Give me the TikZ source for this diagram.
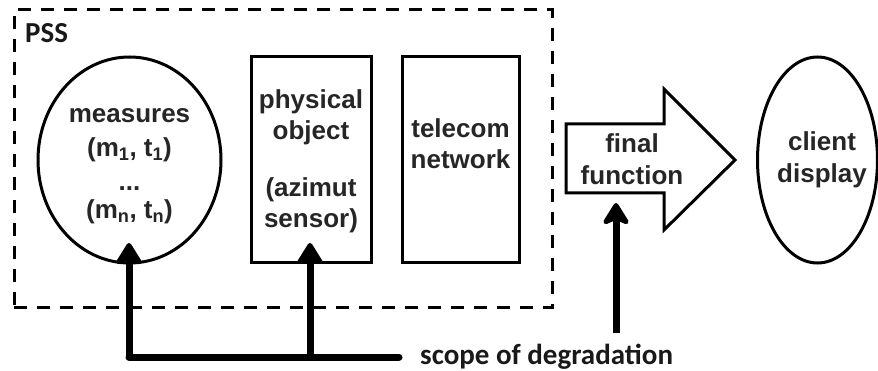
\documentclass[tikz,border=0pt]{standalone}
\usepackage{fontspec}
\newfontfamily\boxfont{Liberation Sans}
\newfontfamily\labelfont{Carlito}
\usetikzlibrary{arrows.meta,shapes.geometric,calc}
\tikzset{
  shapeline/.style={draw=black,line width=3pt},
  ovalbox/.style={shapeline,ellipse,inner sep=0pt,align=center},
  rectbox/.style={shapeline,rectangle,inner sep=0pt,align=center},
  txt/.style={font=\boxfont\fontsize{26}{31}\selectfont\bfseries,text=black!85,align=center,inner sep=0pt},
  lbl/.style={font=\labelfont\fontsize{29}{33}\selectfont\bfseries,inner sep=0pt,text=black!90},
  thick arrow/.style={line width=7pt,-{Stealth[length=26pt,width=32pt,inset=7pt,round]}},
  bus/.style={line width=7pt,line cap=round},
  pss/.style={draw=black,line width=3pt,dash pattern=on 13pt off 10pt}
}
\begin{document}
\begin{tikzpicture}[x=1pt,y=-1pt]
\useasboundingbox (0,0) rectangle (878,371);
\fill[white] (0,0) rectangle (878,371);
\node[pss,rectangle,minimum width=538pt,minimum height=298pt,inner sep=0pt] (pssbox) at (283,159) {};
\node[lbl,anchor=west] (psslabel) at (25,33) {PSS};
\node[ovalbox,minimum width=183pt,minimum height=206pt] (measures) at (129.5,160) {};
\node[txt] (measurestxt) at (129.5,166) {measures\\[3pt](m\textsubscript{1}, t\textsubscript{1})\\[3pt]...\\[-3pt](m\textsubscript{n}, t\textsubscript{n})};
\node[rectbox,minimum width=120pt,minimum height=206pt] (physical) at (311,160) {};
\node[txt] (physicaltxt) at (311,161) {physical\\object\\[26pt](azimut\\sensor)};
\node[rectbox,minimum width=117pt,minimum height=206pt] (telecom) at (460.5,160) {};
\node[txt] (telecomtxt) at (460.5,144) {telecom\\network};
\draw[shapeline,line join=miter,fill=white] (566,124) -- (664,124) -- (664,89) -- (735,160) -- (664,230) -- (664,193) -- (566,193) -- cycle;
\node[txt] (finaltxt) at (632,159) {final\\[1pt]function};
\node[ovalbox,minimum width=120pt,minimum height=206pt] (client) at (817.5,160) {};
\node[txt] (clienttxt) at (822,160) {client\\[1pt]display};
\node[lbl,anchor=west] (scope) at (420,357) {scope of degradation};
\coordinate (busleft) at (129,357);
\coordinate (busmid) at (310,357);
\coordinate (busright) at (399,357);
\coordinate (measuretip) at (129,243);
\coordinate (physicaltip) at (310,243);
\coordinate (finaltip) at (616,203);
\coordinate (finalbase) at (616,333);
\draw[bus] (busleft) -- (busright);
\draw[thick arrow] (busleft) -- (measuretip);
\draw[thick arrow] (busmid) -- (physicaltip);
\draw[thick arrow] (finalbase) -- (finaltip);
\end{tikzpicture}
\end{document}
